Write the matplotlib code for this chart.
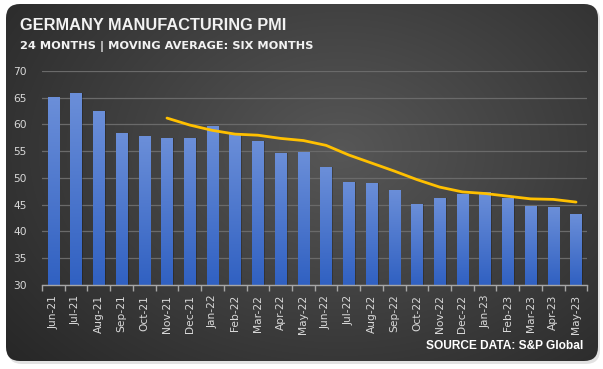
import matplotlib
matplotlib.use("Agg")
import matplotlib.pyplot as plt
from matplotlib.patches import FancyBboxPatch
import numpy as np

# Germany manufacturing PMI, Jun-21 .. May-23
months = ["Jun-21", "Jul-21", "Aug-21", "Sep-21", "Oct-21", "Nov-21", "Dec-21", "Jan-22",
          "Feb-22", "Mar-22", "Apr-22", "May-22", "Jun-22", "Jul-22", "Aug-22", "Sep-22",
          "Oct-22", "Nov-22", "Dec-22", "Jan-23", "Feb-23", "Mar-23", "Apr-23", "May-23"]
pmi = [65.1, 65.9, 62.6, 58.4, 57.8, 57.4, 57.4, 59.8, 58.4, 56.9, 54.6, 54.8,
       52.0, 49.3, 49.1, 47.8, 45.1, 46.2, 47.1, 47.3, 46.3, 44.7, 44.5, 43.2]
# six month moving average (starts at Nov-21)
ma_months = months[5:]
ma6 = [61.2, 59.9, 58.9, 58.2, 58.0, 57.4, 57.0, 56.1, 54.3, 52.8, 51.3, 49.7,
       48.3, 47.4, 47.1, 46.6, 46.1, 46.0, 45.5]

W, H = 603, 369
fig = plt.figure(figsize=(W / 100, H / 100), dpi=100)
fig.patch.set_facecolor("white")

# background panel with radial gradient
bg = fig.add_axes([0, 0, 1, 1], zorder=0)
bg.set_xlim(0, W)
bg.set_ylim(H, 0)
bg.axis("off")
yy, xx = np.mgrid[0:H, 0:W]
r = np.sqrt(((xx - 340) / 400.0) ** 2 + ((yy - 150) / 290.0) ** 2)
g = np.clip(0.34 - 0.17 * r, 0.15, 0.34)
img = np.dstack([g, g, g])
shadow = FancyBboxPatch((8, 6), 592, 358, boxstyle="round,pad=0,rounding_size=14",
                        fc="#d0d0d0", ec="none", alpha=0.6)
bg.add_patch(shadow)
panel = FancyBboxPatch((6, 4), 592, 357, boxstyle="round,pad=0,rounding_size=14",
                       fc="none", ec="none")
bg.add_patch(panel)
im = bg.imshow(img, extent=[0, W, H, 0], aspect="auto", zorder=1)
im.set_clip_path(panel)

fig.text(20 / W, 1 - 25 / H, "GERMANY MANUFACTURING PMI", color="#f2f2f2",
         fontsize=11.8, fontweight="bold", va="center", ha="left",
         family=["Liberation Sans", "DejaVu Sans"])
fig.text(20 / W, 1 - 46 / H, "24 MONTHS | MOVING AVERAGE: SIX MONTHS", color="#f2f2f2",
         fontsize=8.2, fontweight="bold", va="center", ha="left")
fig.text(583 / W, 1 - 346 / H, "SOURCE DATA: S&P Global", color="white",
         fontsize=8.6, fontweight="bold", va="center", ha="right",
         family=["Liberation Sans Narrow", "Liberation Sans", "DejaVu Sans"])

ax = fig.add_axes([42 / W, 1 - 285 / H, 545.4 / W, 214 / H], zorder=2)
ax.patch.set_alpha(0)
x = np.arange(len(months))
bars = ax.bar(x, [v - 30 for v in pmi], bottom=30, width=0.5, color="#4472c4", zorder=3)

# vertical gradient on each bar, plus a soft shadow on the right
grad = np.linspace(0, 1, 100).reshape(-1, 1)
top_c = np.array([0.42, 0.56, 0.85])
bot_c = np.array([0.19, 0.38, 0.76])
gimg = top_c * (1 - grad[..., None]) + bot_c * grad[..., None]
for b in bars:
    x0, w = b.get_x(), b.get_width()
    ax.bar(x0 + w / 2 + 0.06, b.get_height(), bottom=30, width=w,
           color="black", alpha=0.22, zorder=2.5)
    gi = ax.imshow(gimg, extent=[x0, x0 + w, 30, 30 + b.get_height()],
                   aspect="auto", zorder=3.5)
    gi.set_clip_path(b)

ma_x = [months.index(m) for m in ma_months]
ax.plot(ma_x, ma6, color="#ffc000", lw=2, zorder=4, solid_capstyle="round")

ax.set_xlim(-0.5, len(months) - 0.5)
ax.set_ylim(30, 70)
ax.set_yticks(range(30, 71, 5))
ax.grid(axis="y", color="#6a6a6a", lw=0.9, zorder=0)
ax.set_axisbelow(True)
for s in ["left", "right", "top"]:
    ax.spines[s].set_visible(False)
ax.spines["bottom"].set_color("#a6a6a6")
ax.spines["bottom"].set_linewidth(1)
ax.spines["bottom"].set_zorder(5)
ax.set_xticks(x)
ax.set_xticklabels(months, rotation=90)
ax.set_xticks(np.arange(-0.5, len(months), 1), minor=True)
ax.tick_params(axis="x", which="major", length=0, pad=7, labelsize=7.7, labelcolor="#d9d9d9")
ax.tick_params(axis="x", which="minor", length=4, color="#a6a6a6", width=1)
ax.tick_params(axis="y", length=0, pad=11, labelsize=7.7, labelcolor="#d9d9d9")

fig.savefig("out.png", dpi=100)
